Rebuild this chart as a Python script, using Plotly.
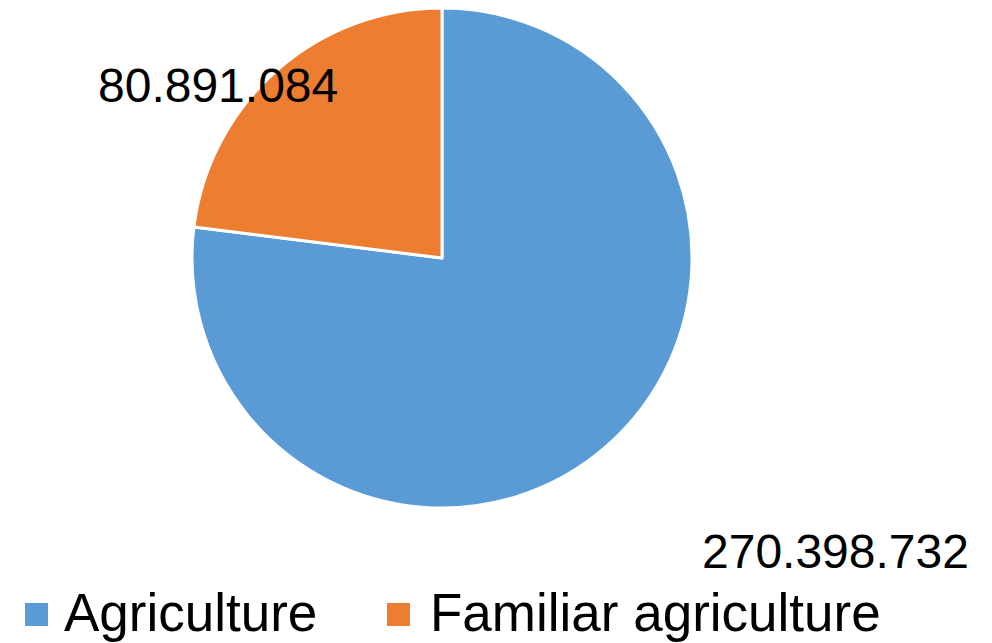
import plotly.graph_objects as go

labels = ["Agriculture", "Familiar agriculture"]
values = [270398732, 80891084]
colors = ["#5B9BD5", "#ED7D31"]

def fmt(v):
    return f"{v:,}".replace(",", ".")

W, H = 992, 643
OFF = 8  # browser body margin
def px(x):
    return min(1.0, max(0.0, (x - OFF) / W))
def py(y):
    return min(1.0, max(0.0, 1 - (y - OFF) / H))

cx, cy, r = 442, 258, 250

fig = go.Figure(go.Pie(
    labels=labels, values=values, sort=False, direction="clockwise", rotation=0,
    marker=dict(colors=colors, line=dict(color="white", width=3)),
    textinfo="none", hoverinfo="label+value", showlegend=False,
    domain=dict(x=[px(cx - r), px(cx + r)], y=[py(cy + r), py(cy - r)]),
))

label_pos = [(835, 551), (218, 86)]
for v, (x, y) in zip(values, label_pos):
    fig.add_annotation(x=px(x), y=py(y), xref="paper", yref="paper",
                       xanchor="center", yanchor="middle",
                       text=fmt(v), showarrow=False,
                       font=dict(family="Liberation Sans, Arial", size=48, color="black"))

# legend drawn as shapes + text
legend_sq = [(25, 48), (387, 410)]
legend_txt_x = [62, 428]
for lab, col, (x0, x1), tx in zip(labels, colors, legend_sq, legend_txt_x):
    fig.add_shape(type="rect", xref="paper", yref="paper",
                  x0=px(x0), x1=px(x1), y0=py(626), y1=py(603),
                  fillcolor=col, line=dict(width=0))
    fig.add_annotation(x=px(tx), y=py(612), xref="paper", yref="paper",
                       xanchor="left", yanchor="middle", text=lab, showarrow=False,
                       font=dict(family="Liberation Sans, Arial", size=53, color="black"))

fig.update_layout(
    width=W, height=H, margin=dict(l=0, r=0, t=0, b=0),
    paper_bgcolor="white", plot_bgcolor="white",
    showlegend=False,
)
fig.write_html("out.html")
